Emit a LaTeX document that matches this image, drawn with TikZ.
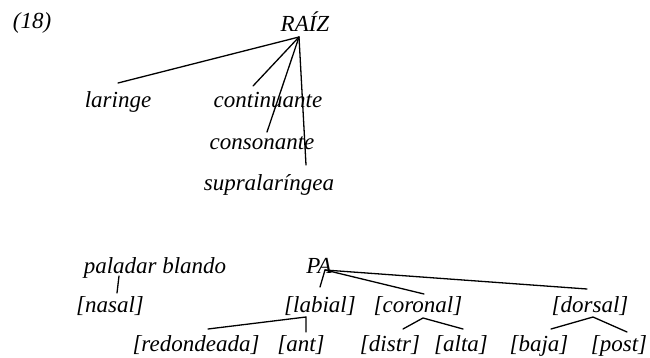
\documentclass[tikz,border=0pt]{standalone}
\usepackage{fontspec}
\setmainfont{Liberation Serif}
\usepackage{xcolor}
\usepackage{tikz}

\begin{document}
\begin{tikzpicture}[x=1pt,y=-1pt,
    feat/.style={anchor=base,inner sep=0pt,font=\fontsize{23}{26}\selectfont\itshape},
    branch/.style={line width=1.3pt,line cap=round}]
  \useasboundingbox (0,0) rectangle (650,358);
  % labels
  \node[feat] (num)   at (32,29)   {(18)};
  \node[feat] (raiz)  at (305,32)  {RAÍZ};
  \node[feat] (lar)   at (118,108) {laringe};
  \node[feat] (cont)  at (268,108) {continuante};
  \node[feat] (cons)  at (262,150) {consonante};
  \node[feat] (supra) at (269,190) {supralaríngea};
  \node[feat] (palb)  at (155,273) {paladar blando};
  \node[feat] (pa)    at (319,273) {PA};
  \node[feat] (nas)   at (110,312) {[nasal]};
  \node[feat] (lab)   at (320,312) {[labial]};
  \node[feat] (cor)   at (418,312) {[coronal]};
  \node[feat] (dor)   at (590,312) {[dorsal]};
  \node[feat] (red)   at (196,351) {[redondeada]};
  \node[feat] (ant)   at (301,351) {[ant]};
  \node[feat] (dis)   at (390,351) {[distr]};
  \node[feat] (alt)   at (461,351) {[alta]};
  \node[feat] (baj)   at (539,351) {[baja]};
  \node[feat] (pst)   at (619,351) {[post]};
  % branching points
  \coordinate (raiz-r) at (299,37);
  \coordinate (pa-r)   at (325,270);
  \coordinate (lab-r)  at (306,317);
  \coordinate (cor-r)  at (423,318);
  \coordinate (dor-r)  at (593,317);
  % free ends just above the daughters
  \coordinate (lar-e)   at (118,83);
  \coordinate (cont-e)  at (253,86);
  \coordinate (cons-e)  at (267,132);
  \coordinate (supra-e) at (306,165);
  \coordinate (palb-e)  at (119,276);
  \coordinate (nas-e)   at (117,293);
  \coordinate (lab-e)   at (320,287);
  \coordinate (cor-e)   at (424,294);
  \coordinate (dor-e)   at (587,289);
  \coordinate (red-e)   at (208,329);
  \coordinate (ant-e)   at (306,332);
  \coordinate (dis-e)   at (403,329);
  \coordinate (alt-e)   at (463,329);
  \coordinate (baj-e)   at (551,329);
  \coordinate (pst-e)   at (627,332);
  % tree lines
  \foreach \e in {lar-e,cont-e,cons-e,supra-e}
    \draw[branch] (raiz-r) -- (\e);
  \draw[branch] (palb-e) -- (nas-e);
  \foreach \e in {lab-e,cor-e,dor-e}
    \draw[branch] (pa-r) -- (\e);
  \draw[branch] (red-e) -- (lab-r) -- (ant-e);
  \draw[branch] (dis-e) -- (cor-r) -- (alt-e);
  \draw[branch] (baj-e) -- (dor-r) -- (pst-e);
\end{tikzpicture}
\end{document}
